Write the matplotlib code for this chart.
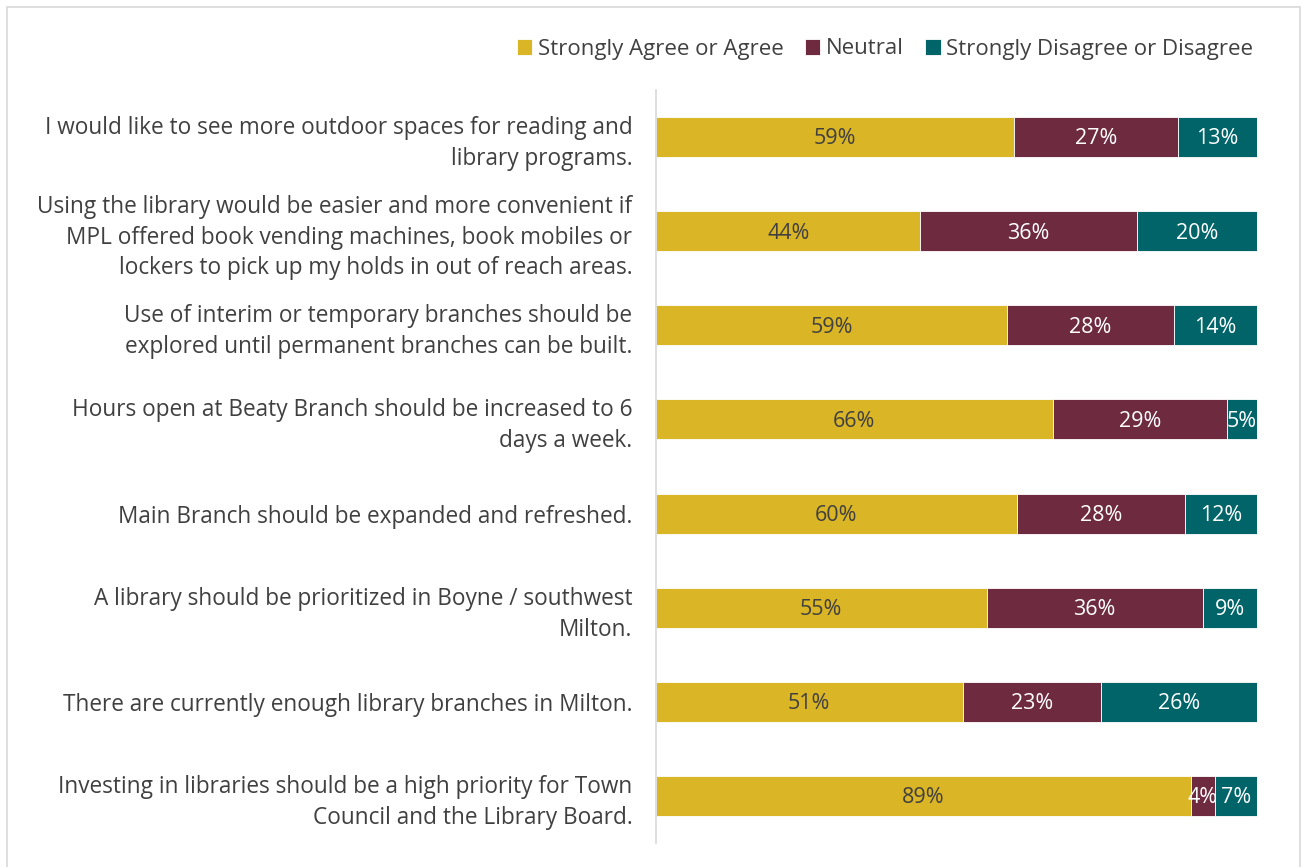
import matplotlib
matplotlib.use("Agg")
import matplotlib.pyplot as plt
from matplotlib.patches import Rectangle
import numpy as np

plt.rcParams['font.family'] = ['Open Sans', 'DejaVu Sans']

categories = [
    "I would like to see more outdoor spaces for reading and\nlibrary programs.",
    "Using the library would be easier and more convenient if\nMPL offered book vending machines, book mobiles or\nlockers to pick up my holds in out of reach areas.",
    "Use of interim or temporary branches should be\nexplored until permanent branches can be built.",
    "Hours open at Beaty Branch should be increased to 6\ndays a week.",
    "Main Branch should be expanded and refreshed.",
    "A library should be prioritized in Boyne / southwest\nMilton.",
    "There are currently enough library branches in Milton.",
    "Investing in libraries should be a high priority for Town\nCouncil and the Library Board.",
]
agree = [59, 44, 59, 66, 60, 55, 51, 89]
neutral = [27, 36, 28, 29, 28, 36, 23, 4]
disagree = [13, 20, 14, 5, 12, 9, 26, 7]
series_names = ["Strongly Agree or Agree", "Neutral", "Strongly Disagree or Disagree"]
colors = ["#DAB526", "#6E2B40", "#006468"]
label_colors = ["#404040", "white", "white"]

data = np.array([agree, neutral, disagree], dtype=float)
totals = data.sum(axis=0)
shares = data / totals

fig = plt.figure(figsize=(13.02, 8.67), dpi=100)
ax = fig.add_axes([656/1302, 1-843/867, (1257-656)/1302, (843-90)/867])

y = np.arange(len(categories))
left = np.zeros(len(categories))
handles = []
for i in range(3):
    bars = ax.barh(y, shares[i], left=left, height=0.425, color=colors[i],
                   edgecolor='white', linewidth=0.6, label=series_names[i])
    handles.append(bars)
    for j, b in enumerate(bars):
        cx = left[j] + shares[i][j] / 2
        ax.text(cx, y[j] + 0.02, f"{int(data[i][j])}%", ha='center', va='center',
                color=label_colors[i], fontsize=15.5)
    left += shares[i]

ax.set_xlim(0, 1)
ax.set_ylim(len(categories) - 0.5, -0.5)
ax.set_yticks(y)
ax.set_yticklabels(categories, fontsize=16.3, color='#404040', linespacing=1.38,
                   multialignment='right')
ax.tick_params(axis='y', length=0, pad=17)
ax.set_xticks([])
for s in ['top', 'right', 'bottom']:
    ax.spines[s].set_visible(False)
ax.spines['left'].set_color('#D9D9D9')
ax.spines['left'].set_linewidth(1.2)

leg = fig.legend(handles=handles, labels=series_names, loc='center right',
                 bbox_to_anchor=(1262/1302, 1-49/867), ncol=3, frameon=False,
                 fontsize=16, handlelength=0.7, handleheight=0.7,
                 handletextpad=0.25, columnspacing=0.95, borderaxespad=0)
for t in leg.get_texts():
    t.set_color('#404040')

fig.add_artist(Rectangle((7/1302, -0.01), (1300-7)/1302, 1.01 - 7/867,
                         transform=fig.transFigure, fill=False,
                         edgecolor='#D9D9D9', linewidth=1.2))

fig.savefig("out.png", dpi=100)
